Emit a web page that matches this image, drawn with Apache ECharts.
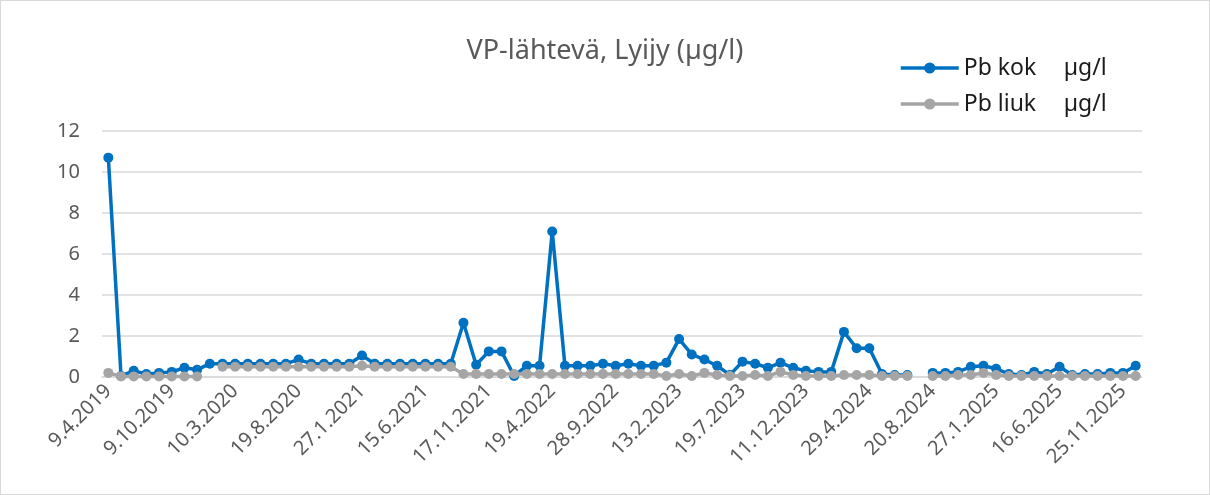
<!DOCTYPE html>
<html>
<head>
<meta charset="utf-8">
<script src="https://cdn.jsdelivr.net/npm/echarts@6/dist/echarts.min.js"></script>
<style>
  html, body { margin: 0; padding: 0; background: #fff; }
  #chart { width: 1210px; height: 495px; box-sizing: border-box; border: 1px solid #d9d9d9; }
</style>
</head>
<body>
<div id="chart"></div>
<script>
const titleText = 'VP-lähtevä, Lyijy (µg/l)';
const seriesNames = ['Pb kok', 'Pb liuk'];
const unit = 'µg/l';
const tickLabels = ['9.4.2019', '9.10.2019', '10.3.2020', '19.8.2020', '27.1.2021', '15.6.2021',
  '17.11.2021', '19.4.2022', '28.9.2022', '13.2.2023', '19.7.2023', '11.12.2023',
  '29.4.2024', '20.8.2024', '27.1.2025', '16.6.2025', '25.11.2025'];
const yTicks = [0, 2, 4, 6, 8, 10, 12];

const pbKok = [
  10.7, 0.05, 0.3, 0.15, 0.2, 0.25, 0.45, 0.35, 0.65, 0.65,
  0.65, 0.65, 0.65, 0.65, 0.65, 0.85, 0.65, 0.65, 0.65, 0.65,
  1.05, 0.65, 0.65, 0.65, 0.65, 0.65, 0.65, 0.65, 2.65, 0.6,
  1.25, 1.25, 0.05, 0.55, 0.55, 7.1, 0.55, 0.55, 0.55, 0.65,
  0.55, 0.65, 0.55, 0.55, 0.7, 1.85, 1.1, 0.85, 0.55, 0.1,
  0.75, 0.65, 0.45, 0.7, 0.45, 0.3, 0.25, 0.25, 2.2, 1.4,
  1.4, 0.15, 0.1, 0.1, null, 0.2, 0.2, 0.25, 0.5, 0.55,
  0.4, 0.15, 0.1, 0.25, 0.15, 0.5, 0.1, 0.15, 0.15, 0.2,
  0.2, 0.55
];
const pbLiuk = [
  0.2, 0.03, 0.03, 0.03, 0.03, 0.03, 0.03, 0.03, null, 0.5,
  0.5, 0.5, 0.5, 0.5, 0.5, 0.5, 0.5, 0.5, 0.5, 0.5,
  0.55, 0.5, 0.5, 0.5, 0.5, 0.5, 0.5, 0.5, 0.15, 0.15,
  0.15, 0.15, 0.15, 0.15, 0.15, 0.15, 0.15, 0.15, 0.15, 0.15,
  0.15, 0.15, 0.15, 0.15, 0.05, 0.15, 0.05, 0.2, 0.1, 0.05,
  0.05, 0.1, 0.05, 0.25, 0.1, 0.05, 0.05, 0.05, 0.1, 0.1,
  0.1, 0.05, 0.05, 0.05, null, 0.05, 0.05, 0.1, 0.1, 0.2,
  0.1, 0.05, 0.05, 0.05, 0.05, 0.05, 0.05, 0.05, 0.05, 0.05,
  0.05, 0.05
];

// category list: labelled every 5th sample, other dates unknown
const categories = pbKok.map((_, i) => (i % 5 === 0 ? tickLabels[i / 5] : 'n' + i));

const font = "'Noto Sans', 'Open Sans', sans-serif";
const chart = echarts.init(document.getElementById('chart'), null, { renderer: 'canvas' });
chart.setOption({
  animation: false,
  backgroundColor: '#ffffff',
  title: {
    text: titleText,
    left: 'center',
    top: 32,
    textStyle: { fontFamily: font, fontSize: 27, fontWeight: 'normal', color: '#595959' }
  },
  legend: {
    orient: 'vertical',
    left: 893,
    top: 50,
    itemWidth: 58,
    itemHeight: 14,
    itemGap: 12,
    data: seriesNames,
    lineStyle: { width: 3.5 },
    formatter: name => '{a|' + name + '}{b|' + unit + '}',
    textStyle: {
      fontFamily: font, fontSize: 23, color: '#1a1a1a', lineHeight: 24,
      rich: {
        a: { fontFamily: font, fontSize: 23, color: '#1a1a1a', width: 100, lineHeight: 24 },
        b: { fontFamily: font, fontSize: 23, color: '#1a1a1a', lineHeight: 24 }
      }
    }
  },
  grid: { left: 101, right: 67, top: 130, bottom: 117 },
  xAxis: {
    type: 'category',
    data: categories,
    boundaryGap: true,
    axisLine: { show: true, lineStyle: { color: '#d9d9d9', width: 1.5 } },
    axisTick: { show: false },
    axisLabel: {
      interval: 4,
      rotate: 45,
      margin: 11,
      fontFamily: font,
      fontSize: 20,
      color: '#595959'
    },
    splitLine: { show: false }
  },
  yAxis: {
    type: 'value',
    min: yTicks[0],
    max: yTicks[yTicks.length - 1],
    interval: yTicks[1] - yTicks[0],
    axisLine: { show: false },
    axisTick: { show: false },
    axisLabel: { fontFamily: font, fontSize: 20, color: '#595959', margin: 22 },
    splitLine: { lineStyle: { color: '#d9d9d9', width: 1.5 } }
  },
  series: [
    {
      name: seriesNames[0],
      type: 'line',
      data: pbKok,
      symbol: 'circle',
      symbolSize: 10,
      showAllSymbol: true,
      connectNulls: false,
      lineStyle: { color: '#0070c0', width: 3.5 },
      itemStyle: { color: '#0070c0' },
      z: 2
    },
    {
      name: seriesNames[1],
      type: 'line',
      data: pbLiuk,
      symbol: 'circle',
      symbolSize: 10,
      showAllSymbol: true,
      connectNulls: false,
      lineStyle: { color: '#a5a5a5', width: 3.5 },
      itemStyle: { color: '#a5a5a5' },
      z: 3
    }
  ]
});
</script>
</body>
</html>
